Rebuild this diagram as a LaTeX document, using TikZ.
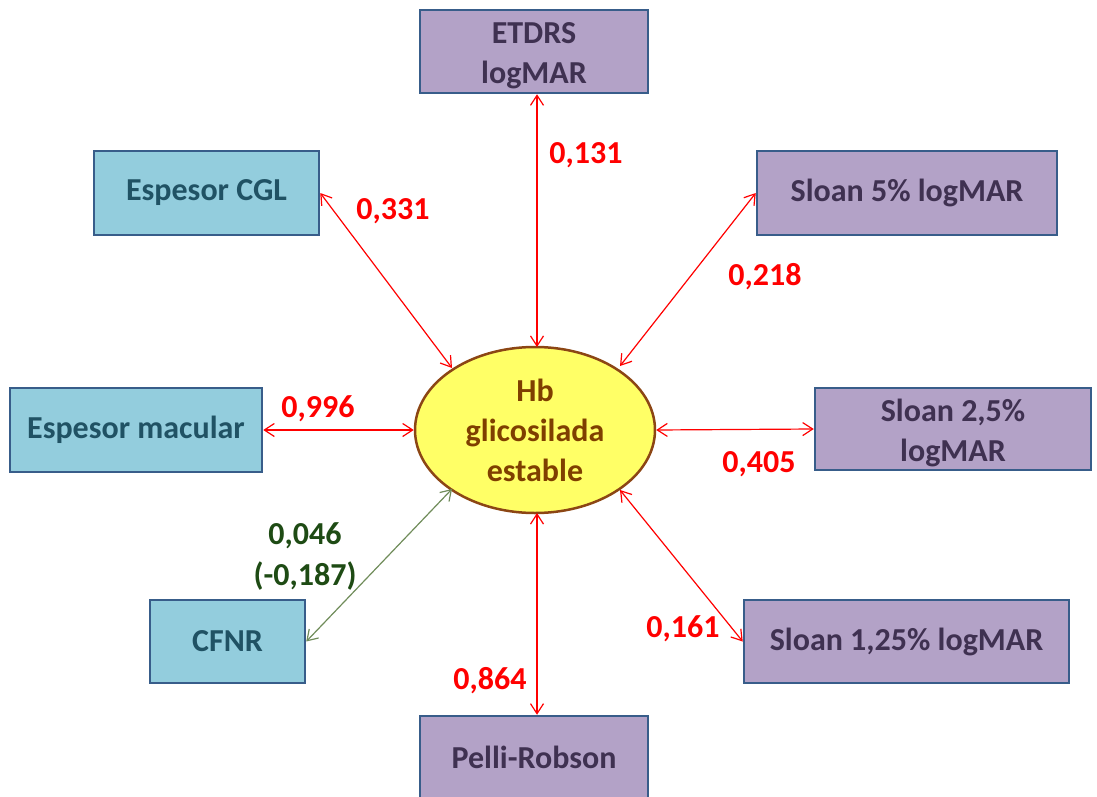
\documentclass[tikz,border=0pt]{standalone}
\usepackage{fontspec}
\setmainfont{Carlito}
\usetikzlibrary{arrows.meta,shapes.geometric}
\definecolor{bluefill}{RGB}{147,205,221}
\definecolor{boxline}{RGB}{56,93,138}
\definecolor{bluetext}{RGB}{32,82,100}
\definecolor{purplefill}{RGB}{179,162,199}
\definecolor{purpletext}{RGB}{63,49,81}
\definecolor{ovalfill}{RGB}{255,255,102}
\definecolor{ovalline}{RGB}{140,70,20}
\definecolor{ovaltext}{RGB}{127,63,0}
\definecolor{linkred}{RGB}{255,0,0}
\definecolor{linkgreen}{RGB}{112,140,90}
\definecolor{greentext}{RGB}{30,75,20}
% extra room above the first line of two-line labels
\newcommand{\toproom}{\rule{0pt}{30pt}}
\begin{document}
\begin{tikzpicture}[x=1pt,y=-1pt,
  txt/.style={font=\fontsize{32}{40}\selectfont\bfseries, align=center},
  bluebox/.style={txt, draw=boxline, line width=2.5pt, fill=bluefill, text=bluetext, inner sep=0pt},
  purplebox/.style={txt, draw=boxline, line width=2.5pt, fill=purplefill, text=purpletext, inner sep=0pt},
  link/.style={draw=linkred, line width=1.2pt, {Straight Barb[length=10pt,width=13pt]}-{Straight Barb[length=10pt,width=13pt]}},
  greenlink/.style={link, draw=linkgreen},
  num/.style={font=\fontsize{32}{41}\selectfont\bfseries, text=linkred, align=center},
  greennum/.style={num, text=greentext}]
\useasboundingbox (0,0) rectangle (1097,797);

% central oval
\node[txt, draw=ovalline, line width=2.5pt, fill=ovalfill, text=ovaltext,
  ellipse, minimum width=240pt, minimum height=166pt, inner sep=0pt] (hb) at (535,430)
  {Hb\\glicosilada\\estable};

% surrounding measures
\node[purplebox, minimum width=228pt, minimum height=83pt] (etdrs) at (534,51.5) {\toproom ETDRS\\logMAR};
\node[bluebox, minimum width=225pt, minimum height=84pt] (cgl) at (206.5,193) {Espesor CGL};
\node[purplebox, minimum width=300pt, minimum height=84pt] (s5) at (907,193) {Sloan 5\% logMAR};
\node[bluebox, minimum width=252pt, minimum height=84pt] (mac) at (136,430) {Espesor macular};
\node[purplebox, minimum width=276pt, minimum height=82pt] (s25) at (953,429) {\toproom Sloan 2,5\%\\logMAR};
\node[bluebox, minimum width=155pt, minimum height=83pt] (cfnr) at (227.5,641.5) {CFNR};
\node[purplebox, minimum width=325pt, minimum height=83pt] (s125) at (906.5,641.5) {Sloan 1,25\% logMAR};
\node[purplebox, minimum width=228pt, minimum height=83pt] (pelli) at (534,757.5) {Pelli-Robson};

% correlations
\coordinate (hbN) at (537,347);
\coordinate (hbS) at (537,513);
\coordinate (hbNW) at (452,368);
\coordinate (hbNE) at (620,366);
\coordinate (hbSW) at (452,489);
\coordinate (hbSE) at (620,490);
\draw[link] (etdrs.south -| hbN) -- (hbN);
\draw[link] (cgl.east) -- (hbNW);
\draw[link] (s5.west) -- (hbNE);
\draw[link] (mac.east) -- (hb.west);
\draw[link] (s25.west) -- (hb.east);
\draw[greenlink] (cfnr.east) -- (hbSW);
\draw[link] (s125.west) -- (hbSE);
\draw[link] (pelli.north -| hbS) -- (hbS);

% coefficients
\node[num] (n1) at (586,155) {0,131};
\node[num] (n2) at (393,211) {0,331};
\node[num] (n3) at (765,277) {0,218};
\node[num] (n4) at (318,409) {0,996};
\node[num] (n5) at (759,464) {0,405};
\node[greennum] (n6) at (305,556) {0,046\\(-0,187)};
\node[num] (n7) at (683,629) {0,161};
\node[num] (n8) at (490,681) {0,864};
\end{tikzpicture}
\end{document}
